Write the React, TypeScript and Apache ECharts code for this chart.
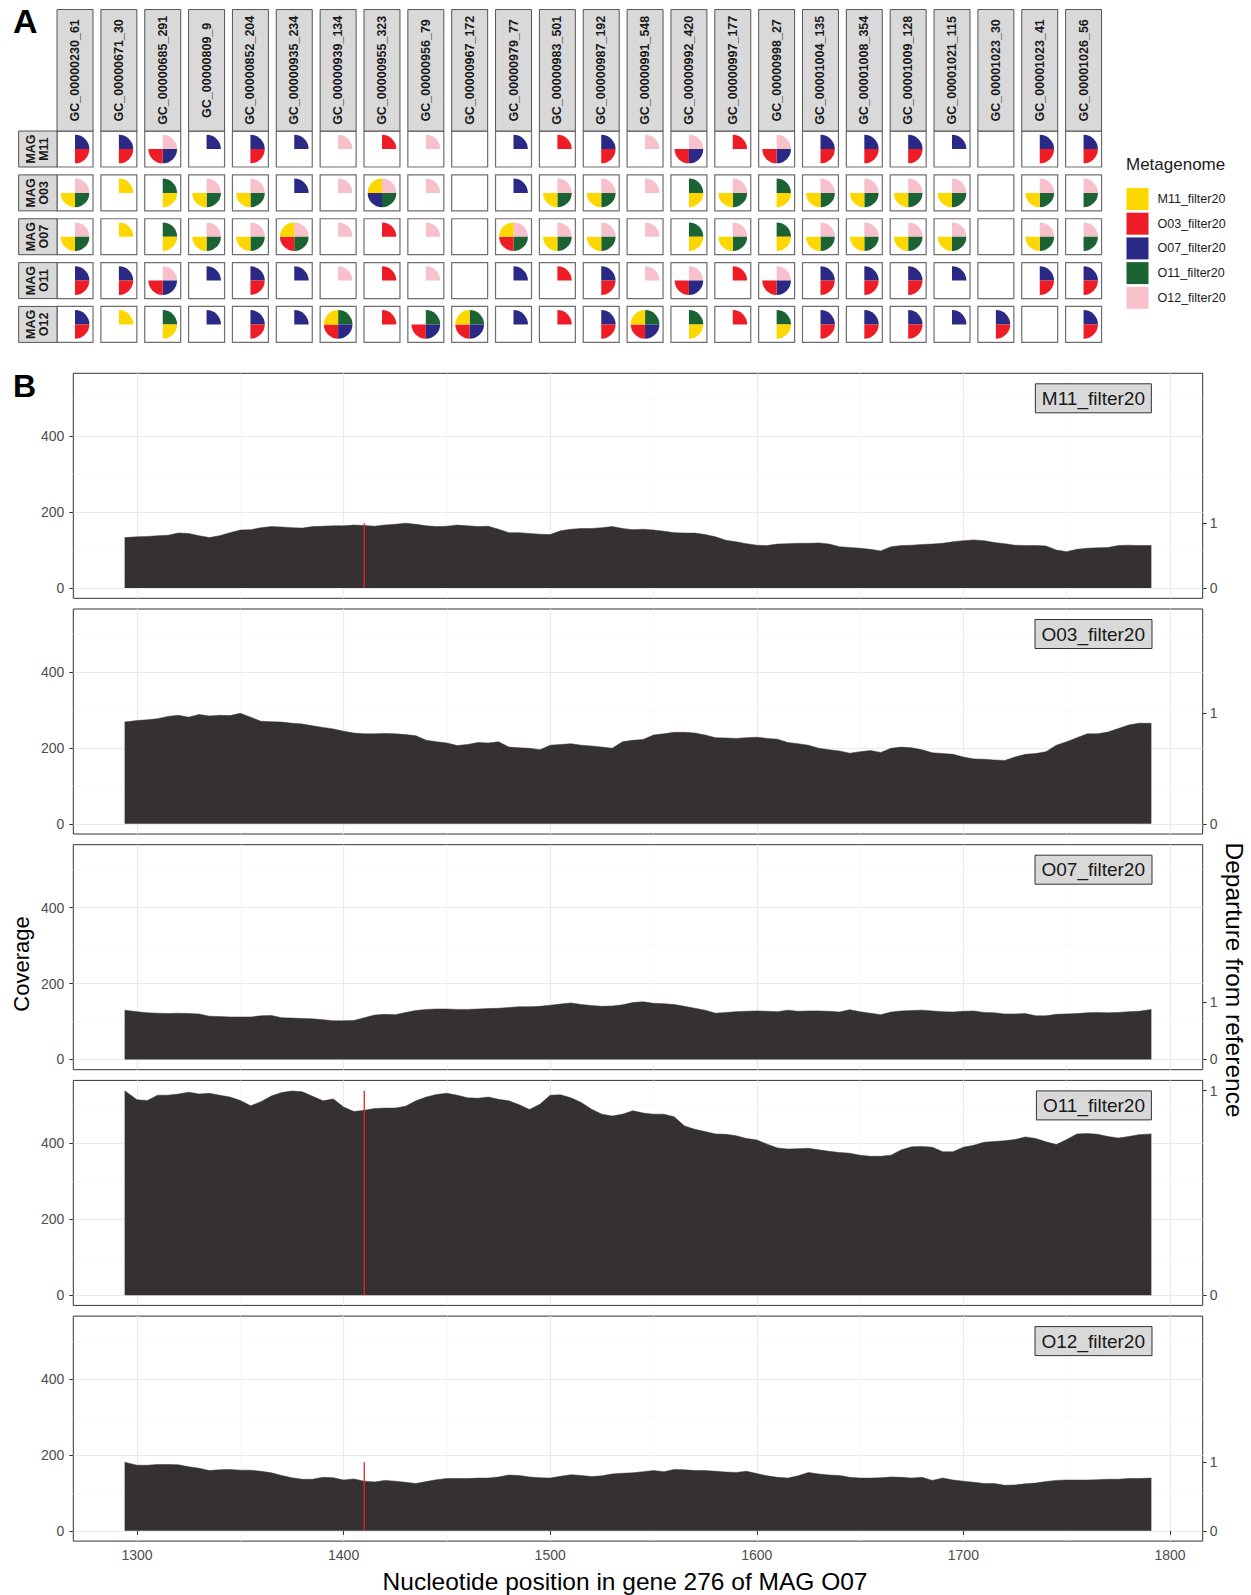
import React, { useEffect, useRef } from 'react';
import * as echarts from 'echarts';

const FONT = '"Liberation Sans", Arial, Helvetica, sans-serif';

// ---------- Panel A data ----------
const gcColumns = [
  'GC_00000230_61', 'GC_00000671_30', 'GC_00000685_291', 'GC_00000809_9', 'GC_00000852_204',
  'GC_00000935_234', 'GC_00000939_134', 'GC_00000955_323', 'GC_00000956_79', 'GC_00000967_172',
  'GC_00000979_77', 'GC_00000983_501', 'GC_00000987_192', 'GC_00000991_548', 'GC_00000992_420',
  'GC_00000997_177', 'GC_00000998_27', 'GC_00001004_135', 'GC_00001008_354', 'GC_00001009_128',
  'GC_00001021_115', 'GC_00001023_30', 'GC_00001023_41', 'GC_00001026_56',
];
const magRows = ['M11', 'O03', 'O07', 'O11', 'O12'];
const metagenomeCodes = ['M11', 'O03', 'O07', 'O11', 'O12'];
const metagenomes = ['M11_filter20', 'O03_filter20', 'O07_filter20', 'O11_filter20', 'O12_filter20'];
const metagenomeColors = ['#FFD700', '#EE1D25', '#2A2A86', '#1B6332', '#F8C0CB'];

const presMAG_M11 = ['O07 O03', 'O07 O03', 'O12 O07 O03', 'O07', 'O07 O03', 'O07', 'O12', 'O03', 'O12', '', 'O07', 'O03', 'O07 O03', 'O12', 'O12 O07 O03', 'O03', 'O12 O07 O03', 'O07 O03', 'O07 O03', 'O07 O03', 'O07', '', 'O07 O03', 'O07 O03'];
const presMAG_O03 = ['O12 O11 M11', 'M11', 'O11 M11', 'O12 O11 M11', 'O12 O11 M11', 'O07', 'O12', 'O12 O11 O07 M11', 'O12', '', 'O07', 'O12 O11 M11', 'O12 O11 M11', 'O12', 'O11 M11', 'O12 O11 M11', 'O11 M11', 'O12 O11 M11', 'O12 O11 M11', 'O12 O11 M11', 'O12 O11 M11', '', 'O12 O11 M11', 'O12 O11'];
const presMAG_O07 = ['O12 O11 M11', 'M11', 'O11 M11', 'O12 O11 M11', 'O12 O11 M11', 'O12 O11 O03 M11', 'O12', 'O03', 'O12', '', 'O12 O11 O03 M11', 'O12 O11 M11', 'O12 O11 M11', 'O12', 'O11 M11', 'O12 O11 M11', 'O11 M11', 'O12 O11 M11', 'O12 O11 M11', 'O12 O11 M11', 'O12 O11 M11', '', 'O12 O11 M11', 'O12 O11'];
const presMAG_O11 = ['O07 O03', 'O07 O03', 'O12 O07 O03', 'O07', 'O07 O03', 'O07', 'O12', 'O03', 'O12', '', 'O07', 'O03', 'O07 O03', 'O12', 'O12 O07 O03', 'O03', 'O12 O07 O03', 'O07 O03', 'O07 O03', 'O07 O03', 'O07', '', 'O07 O03', 'O07 O03'];
const presMAG_O12 = ['O07 O03', 'M11', 'O11 M11', 'O07', 'O07 O03', 'O07', 'O11 O07 O03 M11', 'O03', 'O11 O07 O03', 'O11 O07 O03 M11', 'O07', 'O03', 'O07 O03', 'O11 O07 O03 M11', 'O11 M11', 'O03', 'O11 M11', 'O07 O03', 'O07 O03', 'O07 O03', 'O07', 'O07 O03', '', 'O07 O03'];
const presenceRows = [presMAG_M11, presMAG_O03, presMAG_O07, presMAG_O11, presMAG_O12];

// ---------- Panel B data ----------
const positions = [
  1294, 1300, 1305, 1310, 1315, 1320, 1325, 1330, 1335, 1340,
  1345, 1350, 1355, 1360, 1365, 1370, 1375, 1380, 1385, 1390,
  1395, 1400, 1405, 1410, 1415, 1420, 1425, 1430, 1435, 1440,
  1445, 1450, 1455, 1460, 1465, 1470, 1475, 1480, 1485, 1490,
  1495, 1500, 1505, 1510, 1515, 1520, 1525, 1530, 1535, 1540,
  1545, 1550, 1555, 1560, 1565, 1570, 1575, 1580, 1585, 1590,
  1595, 1600, 1605, 1610, 1615, 1620, 1625, 1630, 1635, 1640,
  1645, 1650, 1655, 1660, 1665, 1670, 1675, 1680, 1685, 1690,
  1695, 1700, 1705, 1710, 1715, 1720, 1725, 1730, 1735, 1740,
  1745, 1750, 1755, 1760, 1765, 1770, 1775, 1780, 1785, 1791,
];
const coverageM11 = [
  133, 135, 136, 138, 139, 145, 144, 138, 133, 138,
  146, 153, 154, 159, 162, 161, 159, 158, 162, 163,
  164, 164, 166, 165, 163, 166, 168, 171, 168, 164,
  162, 163, 166, 164, 162, 163, 155, 146, 146, 144,
  142, 141, 151, 155, 157, 157, 159, 162, 157, 154,
  155, 153, 150, 146, 145, 145, 141, 135, 126, 122,
  117, 113, 112, 116, 117, 118, 118, 119, 116, 109,
  107, 105, 102, 98, 109, 112, 113, 115, 116, 118,
  122, 125, 127, 125, 120, 117, 113, 112, 112, 111,
  100, 96, 102, 105, 106, 107, 112, 113, 112, 112,
];
const coverageO03 = [
  268, 272, 274, 277, 283, 286, 281, 288, 284, 286,
  285, 291, 281, 270, 269, 268, 265, 263, 258, 254,
  250, 244, 239, 237, 237, 238, 237, 235, 232, 220,
  216, 213, 206, 209, 214, 213, 216, 202, 200, 199,
  195, 207, 209, 211, 207, 205, 202, 199, 216, 220,
  222, 234, 237, 241, 241, 239, 234, 227, 226, 225,
  227, 228, 225, 223, 214, 211, 207, 199, 195, 192,
  186, 190, 193, 188, 199, 202, 200, 195, 187, 185,
  183, 176, 171, 170, 168, 167, 176, 183, 185, 190,
  207, 216, 227, 237, 237, 242, 251, 260, 265, 265,
];
const coverageO07 = [
  130, 126, 123, 122, 121, 122, 121, 120, 114, 113,
  112, 112, 112, 115, 116, 110, 109, 108, 107, 105,
  102, 102, 103, 110, 117, 119, 118, 124, 129, 132,
  133, 133, 132, 132, 133, 134, 135, 137, 139, 139,
  140, 143, 146, 149, 145, 142, 140, 141, 144, 150,
  152, 148, 147, 145, 140, 135, 130, 122, 124, 126,
  127, 128, 127, 126, 130, 127, 128, 128, 127, 125,
  131, 126, 122, 118, 125, 128, 129, 130, 128, 126,
  125, 127, 128, 124, 123, 120, 120, 121, 115, 115,
  119, 120, 121, 123, 124, 123, 124, 126, 127, 132,
];
const coverageO11 = [
  539, 515, 513, 527, 527, 530, 535, 530, 532, 527,
  522, 513, 499, 510, 525, 534, 538, 536, 524, 512,
  517, 496, 484, 487, 492, 493, 493, 498, 512, 522,
  529, 532, 527, 520, 519, 522, 516, 512, 502, 489,
  503, 527, 528, 520, 508, 490, 477, 472, 477, 486,
  480, 477, 477, 470, 446, 437, 431, 425, 424, 420,
  413, 409, 398, 388, 385, 386, 387, 383, 379, 376,
  374, 369, 366, 366, 369, 383, 391, 392, 390, 378,
  378, 390, 395, 403, 405, 407, 410, 417, 413, 404,
  397, 410, 425, 426, 424, 418, 414, 418, 423, 425,
];
const coverageO12 = [
  181, 173, 173, 175, 175, 174, 169, 165, 159, 161,
  162, 160, 160, 157, 153, 146, 140, 136, 136, 141,
  140, 134, 137, 131, 129, 133, 131, 128, 125, 130,
  135, 138, 138, 138, 139, 139, 142, 147, 146, 142,
  140, 139, 144, 148, 146, 143, 145, 150, 152, 153,
  156, 159, 156, 162, 161, 159, 159, 157, 155, 154,
  157, 151, 145, 141, 139, 145, 154, 150, 147, 146,
  141, 139, 139, 140, 142, 141, 139, 141, 133, 139,
  134, 131, 128, 125, 125, 120, 121, 124, 126, 130,
  133, 134, 134, 134, 135, 136, 136, 138, 138, 139,
];
const coverageByFacet = [coverageM11, coverageO03, coverageO07, coverageO11, coverageO12];
// departure from reference (position, value) per facet
const departureM11 = [[1410, 1]];
const departureO03: number[][] = [];
const departureO07: number[][] = [];
const departureO11 = [[1410, 1]];
const departureO12 = [[1410, 1]];
const departureByFacet = [departureM11, departureO03, departureO07, departureO11, departureO12];

const xMajorTicks = [1300, 1400, 1500, 1600, 1700, 1800];
const xMinorTicks = [1350, 1450, 1550, 1650, 1750];
const yMajorTicks = [0, 200, 400];
const yMinorTicks = [100, 300, 500];
const departureTicks = [0, 1];

// ---------- layout ----------
const A_LEFT = 53.1;
const A_TOP = 127.1;
const A_BAND = 43.85;
const CELL_FRAC = 0.82;
const PIE_FRAC = 0.327;
const COL_STRIP_H = 121.5;
const ROW_STRIP_W = 38.4;

const B_LEFT = 73.3;
const B_RIGHT = 48.3;
const B_TOP = 373.3;
const B_H = 225;
const B_STEP = 235.7;

const AREA_COLOR = '#353130';
const RED = '#E8202A';

function buildOption() {
  const sliceOrder = [4, 3, 2, 1, 0];
  const cellList: { col: number; row: number; present: number[] }[] = [];
  presenceRows.forEach((row, r) => {
    row.forEach((s, c) => {
      const idx = s ? s.split(' ').map((code) => metagenomeCodes.indexOf(code)) : [];
      cellList.push({ col: c, row: r, present: sliceOrder.filter((m) => idx.includes(m)) });
    });
  });

  const renderCell = (params: any, api: any) => {
    const cell = cellList[params.dataIndex];
    const center = api.coord([api.value(0), api.value(1)]);
    const band = api.size([1, 1]);
    const s = band[0] * CELL_FRAC;
    const left = center[0] - s / 2;
    const top = center[1] - s / 2;
    const r = band[0] * PIE_FRAC;
    const children: any[] = [];
    children.push({
      type: 'rect',
      shape: { x: left, y: top, width: s, height: s },
      style: { fill: '#ffffff', stroke: '#6e6e6e', lineWidth: 1.2 },
    });
    cell.present.forEach((m, k) => {
      children.push({
        type: 'sector',
        shape: {
          cx: center[0], cy: center[1], r0: 0, r,
          startAngle: -Math.PI / 2 + k * Math.PI / 2,
          endAngle: -Math.PI / 2 + (k + 1) * Math.PI / 2,
          clockwise: true,
        },
        style: { fill: metagenomeColors[m] },
      });
    });
    if (cell.row === 0) {
      children.push({
        type: 'rect',
        shape: { x: left, y: top - COL_STRIP_H, width: s, height: COL_STRIP_H },
        style: { fill: '#d9d9d9', stroke: '#555', lineWidth: 1 },
      });
      children.push({
        type: 'text',
        x: center[0],
        y: top - COL_STRIP_H / 2,
        rotation: Math.PI / 2,
        style: {
          text: gcColumns[cell.col], fontSize: 12.5, fontWeight: 'bold', fontFamily: FONT,
          fill: '#1a1a1a', align: 'center', verticalAlign: 'middle',
        },
      });
    }
    if (cell.col === 0) {
      children.push({
        type: 'rect',
        shape: { x: left - ROW_STRIP_W, y: top, width: ROW_STRIP_W, height: s },
        style: { fill: '#d9d9d9', stroke: '#555', lineWidth: 1 },
      });
      children.push({
        type: 'text',
        x: left - ROW_STRIP_W / 2,
        y: center[1],
        rotation: Math.PI / 2,
        style: {
          text: 'MAG\n' + magRows[cell.row], fontSize: 12.5, fontWeight: 'bold', fontFamily: FONT,
          fill: '#1a1a1a', align: 'center', verticalAlign: 'middle', lineHeight: 13,
        },
      });
    }
    return { type: 'group', children };
  };

  const allMax = Math.max(...coverageByFacet.map((v) => Math.max(...v)));
  const yMin = -0.05 * allMax;
  const yMax = allMax * 1.05;
  const xSpan = positions[positions.length - 1] - positions[0];
  const xMin = positions[0] - 0.05 * xSpan;
  const xMax = positions[positions.length - 1] + 0.05 * xSpan;

  const grids: any[] = [
    { left: A_LEFT, top: A_TOP, width: A_BAND * gcColumns.length, height: A_BAND * magRows.length, show: false },
  ];
  const xAxes: any[] = [
    { type: 'category', gridIndex: 0, data: gcColumns, show: false },
  ];
  const yAxes: any[] = [
    { type: 'category', gridIndex: 0, data: magRows, inverse: true, show: false },
  ];
  const series: any[] = [
    {
      type: 'custom', name: 'cells', xAxisIndex: 0, yAxisIndex: 0, silent: true, clip: false,
      renderItem: renderCell,
      encode: { x: 0, y: 1 },
      data: cellList.map((c) => [c.col, c.row]),
    },
  ];
  metagenomes.forEach((name, i) => {
    series.push({
      type: 'scatter', name, xAxisIndex: 0, yAxisIndex: 0, data: [],
      itemStyle: { color: metagenomeColors[i], opacity: 1 },
    });
  });

  const titles: any[] = [
    { text: 'A', left: 13, top: 4, padding: 0, textStyle: { fontSize: 34, fontWeight: 'bold', color: '#000', fontFamily: FONT } },
    { text: 'B', left: 13, top: 370, padding: 0, textStyle: { fontSize: 32, fontWeight: 'bold', color: '#000', fontFamily: FONT } },
    { text: 'Metagenome', left: 1126, top: 156, padding: 0, textStyle: { fontSize: 17, fontWeight: 'normal', color: '#1a1a1a', fontFamily: FONT } },
  ];

  const tickLabel = { fontSize: 14, color: '#4d4d4d', fontFamily: FONT, formatter: (v: number) => String(v) };

  coverageByFacet.forEach((vals, k) => {
    const g = k + 1;
    const top = B_TOP + k * B_STEP;
    const fmax = Math.max(...vals);
    const isBottom = k === coverageByFacet.length - 1;
    grids.push({ left: B_LEFT, right: B_RIGHT, top, height: B_H, show: true, borderColor: '#333', borderWidth: 1, backgroundColor: 'transparent' });
    const xMain = xAxes.length;
    xAxes.push({
      type: 'value', gridIndex: g, min: xMin, max: xMax, position: 'bottom',
      axisLine: { show: false },
      axisTick: { show: isBottom, customValues: xMajorTicks, length: 4, lineStyle: { color: '#333', width: 1 } },
      axisLabel: { show: isBottom, customValues: xMajorTicks, margin: 7, ...tickLabel },
      splitLine: { show: true, lineStyle: { color: '#ebebeb', width: 1.1 } },
    });
    xAxes.push({
      type: 'value', gridIndex: g, min: xMin, max: xMax, position: 'top',
      axisLine: { show: false },
      axisTick: { show: false, customValues: xMinorTicks },
      axisLabel: { show: false, customValues: xMinorTicks },
      splitLine: { show: true, lineStyle: { color: '#f3f3f3', width: 0.6 } },
    });
    const yLeft = yAxes.length;
    yAxes.push({
      type: 'value', gridIndex: g, min: yMin, max: yMax, position: 'left',
      axisLine: { show: false },
      axisTick: { show: true, customValues: yMajorTicks, length: 4, lineStyle: { color: '#333', width: 1 } },
      axisLabel: { customValues: yMajorTicks, margin: 9, ...tickLabel },
      splitLine: { show: true, lineStyle: { color: '#ebebeb', width: 1.1 } },
    });
    const yRight = yAxes.length;
    yAxes.push({
      type: 'value', gridIndex: g, min: yMin / fmax, max: yMax / fmax, position: 'right',
      axisLine: { show: false },
      axisTick: { show: true, customValues: departureTicks, length: 4, lineStyle: { color: '#333', width: 1 } },
      axisLabel: { customValues: departureTicks, margin: 7, ...tickLabel },
      splitLine: { show: false },
    });
    yAxes.push({
      type: 'value', gridIndex: g, min: yMin, max: yMax, position: 'left',
      axisLine: { show: false },
      axisTick: { show: false, customValues: yMinorTicks },
      axisLabel: { show: false, customValues: yMinorTicks },
      splitLine: { show: true, lineStyle: { color: '#f3f3f3', width: 0.6 } },
    });

    series.push({
      type: 'line', name: metagenomes[k] + ' coverage', xAxisIndex: xMain, yAxisIndex: yLeft,
      data: positions.map((p, i) => [p, vals[i]]),
      symbol: 'none', showSymbol: false, silent: true, z: 2,
      lineStyle: { width: 0.5, color: AREA_COLOR },
      itemStyle: { color: AREA_COLOR },
      areaStyle: { color: AREA_COLOR, opacity: 1 },
    });
    departureByFacet[k].forEach(([pos, val]) => {
      series.push({
        type: 'line', name: metagenomes[k] + ' departure', xAxisIndex: xMain, yAxisIndex: yRight,
        data: [[pos, 0], [pos, val]],
        symbol: 'none', showSymbol: false, silent: true, z: 3,
        lineStyle: { width: 1.3, color: RED },
        itemStyle: { color: RED },
      });
    });

    titles.push({
      text: metagenomes[k], right: 99, top: top + 10, padding: [5, 7, 5, 7],
      backgroundColor: '#d9d9d9', borderColor: '#333', borderWidth: 1,
      textStyle: { fontSize: 19, fontWeight: 'normal', color: '#1a1a1a', fontFamily: FONT, lineHeight: 20 },
    });
  });

  return {
    animation: false,
    backgroundColor: '#ffffff',
    textStyle: { fontFamily: FONT },
    title: titles,
    legend: {
      data: metagenomes, orient: 'vertical', left: 1126.5, top: 188, padding: 0,
      itemWidth: 22, itemHeight: 22, itemGap: 2.7, icon: 'rect', selectedMode: false,
      itemStyle: { opacity: 1 },
      textStyle: { fontSize: 12.5, color: '#1a1a1a', fontFamily: FONT, padding: [0, 0, 0, 4] },
    },
    grid: grids,
    xAxis: xAxes,
    yAxis: yAxes,
    series,
    graphic: [
      {
        type: 'text', x: 21, y: 964, rotation: Math.PI / 2,
        style: { text: 'Coverage', fontSize: 22, fontFamily: FONT, fill: '#000', align: 'center', verticalAlign: 'middle' },
      },
      {
        type: 'text', x: 1234, y: 980, rotation: -Math.PI / 2,
        style: { text: 'Departure from reference', fontSize: 24.5, fontFamily: FONT, fill: '#000', align: 'center', verticalAlign: 'middle' },
      },
      {
        type: 'text', x: 625, y: 1581,
        style: { text: 'Nucleotide position in gene 276 of MAG O07', fontSize: 24.5, fontFamily: FONT, fill: '#000', align: 'center', verticalAlign: 'middle' },
      },
    ],
  };
}

export default function App() {
  const ref = useRef<HTMLDivElement>(null);
  useEffect(() => {
    if (!ref.current) return;
    const chart = echarts.init(ref.current, null, { renderer: 'svg' });
    chart.setOption(buildOption() as any);
    return () => chart.dispose();
  }, []);
  return (
    <div
      ref={ref}
      style={{ position: 'absolute', left: 0, top: 0, width: 1251, height: 1595, background: '#fff' }}
    />
  );
}
